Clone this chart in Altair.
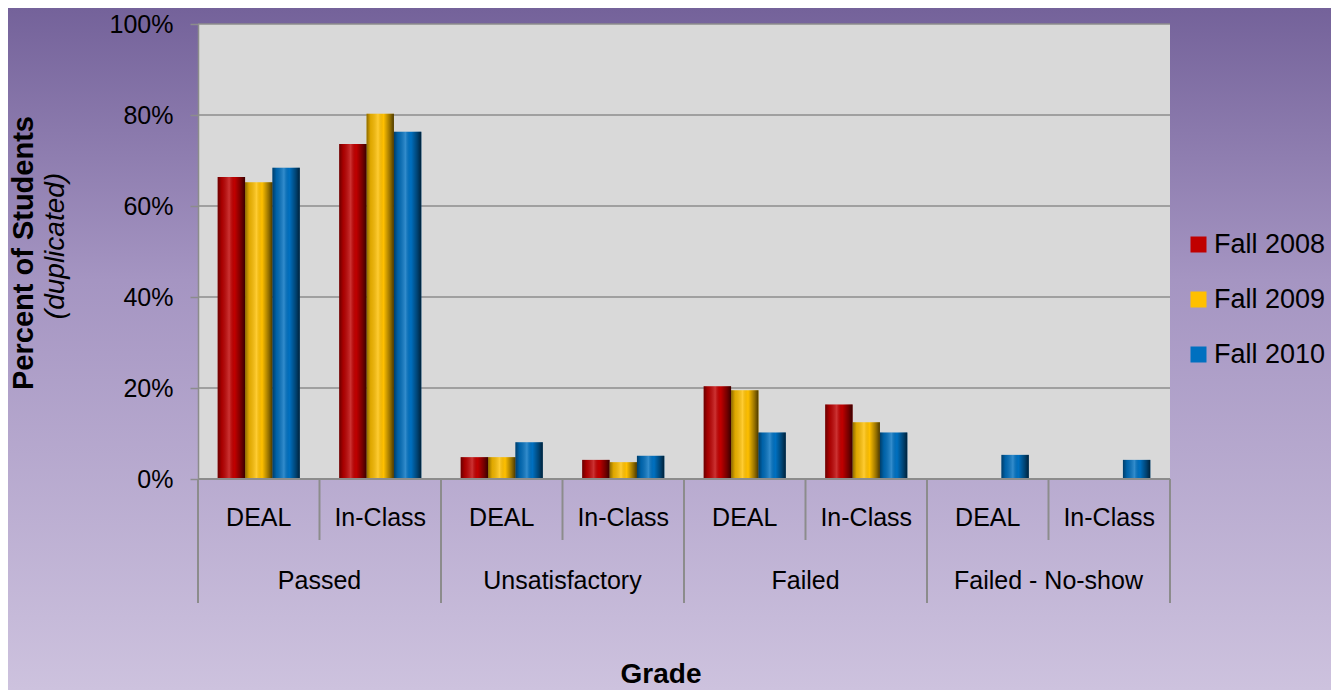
import altair as alt
import pandas as pd

# ---- data ----
groups = ["Passed", "Unsatisfactory", "Failed", "Failed - No-show"]
subs = ["DEAL", "In-Class"]
series = ["Fall 2008", "Fall 2009", "Fall 2010"]
fall_2008 = [66.4, 73.6, 4.8, 4.2, 20.4, 16.4, 0.0, 0.0]
fall_2009 = [65.2, 80.3, 4.8, 3.7, 19.5, 12.5, 0.0, 0.0]
fall_2010 = [68.4, 76.3, 8.1, 5.1, 10.2, 10.2, 5.3, 4.2]
y_ticks = [0, 20, 40, 60, 80, 100]
colors = ["#c00000", "#ffc000", "#0070c0"]

FONT = "Liberation Sans"
W, H = 972, 455
PAD = {"left": 190, "top": 16, "right": 161, "bottom": 211}

# ---- tables ----
keys, key_sub, key_group = [], [], []
for g in groups:
    for s in subs:
        keys.append(f"{g}|{s}")
        key_sub.append(s)
        key_group.append(g)

rows = []
for sname, vals in zip(series, [fall_2008, fall_2009, fall_2010]):
    for k, v in zip(keys, vals):
        rows.append({"key": k, "series": sname, "value": v})
bars_df = pd.DataFrame(rows)

labels_df = pd.DataFrame({"key": keys, "sub": key_sub, "group": key_group})
group_df = labels_df[labels_df["sub"] == "In-Class"]
deal_df = labels_df[labels_df["sub"] == "DEAL"]
last_df = labels_df.tail(1)
grid_df = pd.DataFrame({"v": y_ticks[1:]})
base_df = pd.DataFrame({"v": [0]})
one = pd.DataFrame({"a": [0]})

xscale = alt.Scale(domain=keys, paddingInner=0, paddingOuter=0)
yscale = alt.Scale(domain=[0, 100], nice=False)
xo_scale = alt.Scale(domain=series, paddingInner=0, paddingOuter=0.72)

bg_grad = alt.Gradient(
    gradient="linear", x1=0, x2=0, y1=0, y2=1,
    stops=[alt.GradientStop(color="#74629a", offset=0),
           alt.GradientStop(color="#a595c2", offset=0.4),
           alt.GradientStop(color="#cdc2de", offset=1)])

bevel = alt.Gradient(
    gradient="linear", x1=0, x2=1, y1=0, y2=0,
    stops=[alt.GradientStop(color="rgba(0,0,0,0.45)", offset=0),
           alt.GradientStop(color="rgba(0,0,0,0.12)", offset=0.15),
           alt.GradientStop(color="rgba(255,255,255,0.20)", offset=0.42),
           alt.GradientStop(color="rgba(0,0,0,0.0)", offset=0.62),
           alt.GradientStop(color="rgba(0,0,0,0.40)", offset=0.85),
           alt.GradientStop(color="rgba(0,0,0,0.70)", offset=1)])

background = alt.Chart(one).mark_rect(fill=bg_grad).encode(
    x=alt.value(-PAD["left"]), x2=alt.value(W + PAD["right"]),
    y=alt.value(-PAD["top"]), y2=alt.value(H + PAD["bottom"]))

plot_bg = alt.Chart(one).mark_rect(fill="#d9d9d9").encode(
    x=alt.value(0), x2=alt.value(W), y=alt.value(0), y2=alt.value(H))

grid = alt.Chart(grid_df).mark_rule(color="#8c8c8c", strokeWidth=1.5).encode(
    y=alt.Y("v:Q", scale=yscale), x=alt.value(0), x2=alt.value(W))

bars = alt.Chart(bars_df).mark_bar().encode(
    x=alt.X("key:N", scale=xscale, axis=None, sort=keys),
    xOffset=alt.XOffset("series:N", scale=xo_scale, sort=series),
    y=alt.Y("value:Q", scale=yscale, axis=alt.Axis(
        values=y_ticks, labelExpr="datum.value + '%'", title=None, grid=False,
        tickSize=8, tickColor="#8c8c8c", tickWidth=1.5, domainColor="#8c8c8c",
        domainWidth=1.5, labelFontSize=25, labelFont=FONT, labelColor="black",
        labelPadding=17, zindex=1)),
    color=alt.Color("series:N", scale=alt.Scale(domain=series, range=colors),
                    legend=alt.Legend(title=None, orient="none", legendX=987,
                                      legendY=207, labelFontSize=27,
                                      labelFont=FONT, labelColor="black",
                                      symbolType="square", symbolSize=256,
                                      symbolStrokeWidth=0, rowPadding=27,
                                      labelOffset=2, padding=0, zindex=1)))

shade = alt.Chart(bars_df).mark_bar(fill=bevel).encode(
    x=alt.X("key:N", scale=xscale, axis=None, sort=keys),
    xOffset=alt.XOffset("series:N", scale=xo_scale, sort=series),
    y=alt.Y("value:Q", scale=yscale))

baseline = alt.Chart(base_df).mark_rule(color="#8c8c8c", strokeWidth=2).encode(
    y=alt.Y("v:Q", scale=yscale), x=alt.value(0), x2=alt.value(W))

sep_short = alt.Chart(group_df).mark_rule(color="#8c8c8c", strokeWidth=2).encode(
    x=alt.X("key:N", scale=xscale, bandPosition=0, axis=None),
    y=alt.value(H), y2=alt.value(H + 61))
sep_long = alt.Chart(deal_df).mark_rule(color="#8c8c8c", strokeWidth=2).encode(
    x=alt.X("key:N", scale=xscale, bandPosition=0, axis=None),
    y=alt.value(H), y2=alt.value(H + 124))
sep_end = alt.Chart(last_df).mark_rule(color="#8c8c8c", strokeWidth=2).encode(
    x=alt.X("key:N", scale=xscale, bandPosition=1, axis=None),
    y=alt.value(H), y2=alt.value(H + 124))

sub_text = alt.Chart(labels_df).mark_text(
    fontSize=25, font=FONT, color="black", baseline="middle", align="center").encode(
    x=alt.X("key:N", scale=xscale, axis=None), y=alt.value(H + 39), text="sub:N")
group_text = alt.Chart(group_df).mark_text(
    fontSize=25, font=FONT, color="black", baseline="middle", align="center").encode(
    x=alt.X("key:N", scale=xscale, bandPosition=0, axis=None),
    y=alt.value(H + 102), text="group:N")

ytitle = alt.Chart(pd.DataFrame({"t": ["Percent of Students"]})).mark_text(
    fontSize=29, font=FONT, fontWeight="bold", angle=270, color="black",
    align="center", baseline="middle").encode(
    x=alt.value(-174), y=alt.value(229), text="t:N")
ysub = alt.Chart(pd.DataFrame({"t": ["(duplicated)"]})).mark_text(
    fontSize=28, font=FONT, fontStyle="italic", angle=270, color="black",
    align="center", baseline="middle").encode(
    x=alt.value(-142), y=alt.value(222), text="t:N")
xtitle = alt.Chart(pd.DataFrame({"t": ["Grade"]})).mark_text(
    fontSize=28, font=FONT, fontWeight="bold", color="black",
    align="center", baseline="alphabetic").encode(
    x=alt.value(463), y=alt.value(659), text="t:N")

chart = alt.layer(
    background, plot_bg, grid, bars, shade, baseline,
    sep_short, sep_long, sep_end, sub_text, group_text, ytitle, ysub, xtitle
).properties(
    width=W, height=H, padding=PAD,
    autosize=alt.AutoSizeParams(type="none"),
).configure_view(stroke=None)

chart.save("out.html", embed_options={"renderer": "svg", "actions": False})
